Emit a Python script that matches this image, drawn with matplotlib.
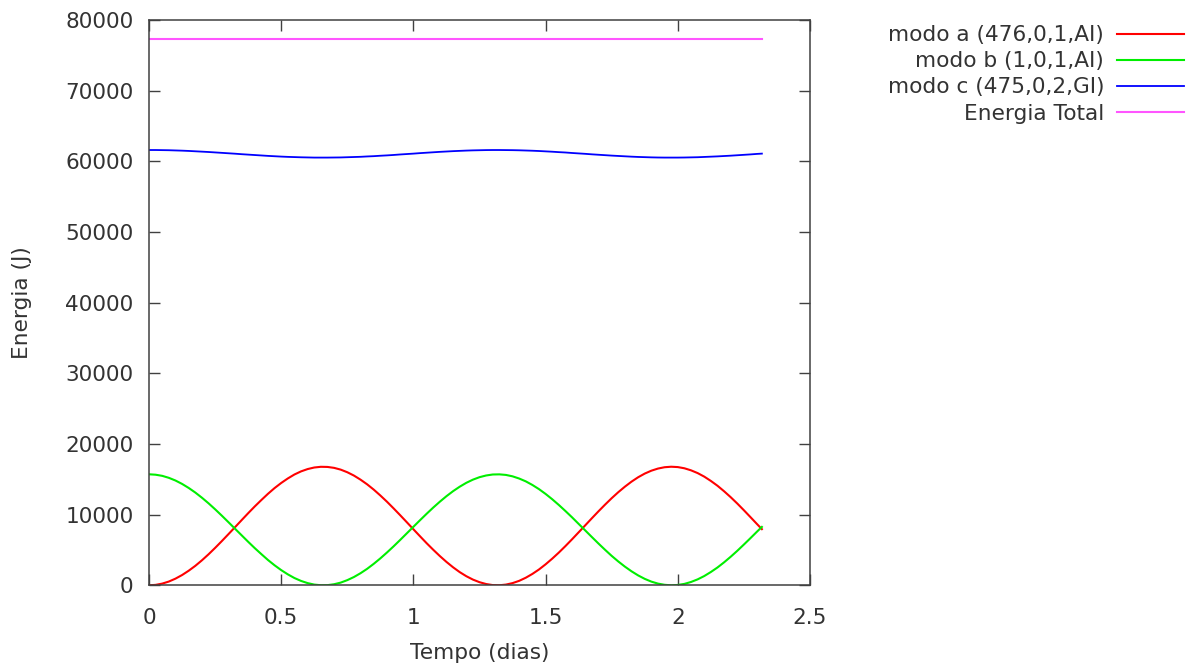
import numpy as np
import matplotlib
matplotlib.use("Agg")
import matplotlib.pyplot as plt

# tempo (dias) e energias (J)
tempo = [0.000, 0.025, 0.050, 0.075, 0.100, 0.125, 0.150, 0.175, 0.200, 0.225,
         0.250, 0.275, 0.300, 0.325, 0.350, 0.375, 0.400, 0.425, 0.450, 0.475,
         0.500, 0.525, 0.550, 0.575, 0.600, 0.625, 0.650, 0.675, 0.700, 0.725,
         0.750, 0.775, 0.800, 0.825, 0.850, 0.875, 0.900, 0.925, 0.950, 0.975,
         1.000, 1.025, 1.050, 1.075, 1.100, 1.125, 1.150, 1.175, 1.200, 1.225,
         1.250, 1.275, 1.300, 1.325, 1.350, 1.375, 1.400, 1.425, 1.450, 1.475,
         1.500, 1.525, 1.550, 1.575, 1.600, 1.625, 1.650, 1.675, 1.700, 1.725,
         1.750, 1.775, 1.800, 1.825, 1.850, 1.875, 1.900, 1.925, 1.950, 1.975,
         2.000, 2.025, 2.050, 2.075, 2.100, 2.125, 2.150, 2.175, 2.200, 2.225,
         2.250, 2.275, 2.300, 2.318]

modo_a = [0, 60, 240, 530, 940, 1450, 2060, 2750, 3530, 4380,
          5290, 6240, 7220, 8210, 9210, 10200, 11160, 12070, 12950, 13760,
          14480, 15120, 15680, 16120, 16450, 16670, 16770, 16750, 16620, 16370,
          16000, 15530, 14950, 14290, 13540, 12710, 11830, 10890, 9920, 8930,
          7930, 6940, 5960, 5030, 4140, 3310, 2550, 1870, 1290, 810,
          440, 180, 30, 5, 100, 310, 630, 1070, 1610, 2240,
          2970, 3770, 4630, 5550, 6510, 7500, 8490, 9490, 10470, 11420,
          12330, 13180, 13960, 14670, 15290, 15810, 16220, 16520, 16710, 16780,
          16730, 16560, 16270, 15880, 15380, 14770, 14090, 13310, 12470, 11570,
          10620, 9640, 8650, 7950]

modo_b = [15710, 15650, 15490, 15210, 14830, 14350, 13780, 13130, 12400, 11610,
          10760, 9870, 8950, 8020, 7090, 6160, 5260, 4410, 3580, 2830,
          2150, 1550, 1030, 620, 310, 100, 10, 20, 150, 380,
          730, 1170, 1710, 2330, 3040, 3810, 4640, 5510, 6420, 7350,
          8280, 9210, 10120, 11000, 11830, 12610, 13320, 13950, 14500, 14950,
          15300, 15540, 15680, 15700, 15620, 15420, 15110, 14710, 14200, 13610,
          12930, 12180, 11370, 10510, 9620, 8690, 7760, 6830, 5910, 5020,
          4160, 3370, 2640, 1980, 1400, 910, 520, 240, 70, 0,
          50, 200, 470, 840, 1310, 1880, 2520, 3250, 4040, 4880,
          5770, 6680, 7610, 8260]

modo_c = [61600, 61600, 61585, 61570, 61540, 61510, 61470, 61420, 61370, 61320,
          61260, 61200, 61140, 61080, 61010, 60950, 60890, 60830, 60770, 60720,
          60670, 60630, 60600, 60570, 60550, 60530, 60530, 60530, 60540, 60550,
          60580, 60610, 60640, 60690, 60730, 60790, 60840, 60900, 60970, 61030,
          61090, 61160, 61220, 61280, 61340, 61390, 61440, 61480, 61520, 61550,
          61570, 61590, 61600, 61600, 61590, 61580, 61560, 61530, 61500, 61460,
          61410, 61360, 61300, 61250, 61180, 61120, 61060, 60990, 60930, 60870,
          60810, 60760, 60710, 60660, 60620, 60590, 60560, 60540, 60530, 60530,
          60530, 60540, 60560, 60580, 60620, 60660, 60700, 60750, 60800, 60860,
          60920, 60980, 61050, 61090]

tempo_total = [0.0, 2.318]
energia_total = [77250, 77250]

rotulos = ["modo a (476,0,1,AI)", "modo b (1,0,1,AI)",
           "modo c (475,0,2,GI)", "Energia Total"]

plt.rcParams['font.family'] = ['DejaVu Sans']
fs = 15.6
cinza = '#404040'
texto = '#333333'

fig = plt.figure(figsize=(11.89, 6.67), dpi=100)
ax = fig.add_axes([149/1189, 1 - 585.3/667, (810 - 149)/1189, (585.3 - 20)/667])

ax.plot(tempo, modo_a, color='#ff0000', lw=1.5, label=rotulos[0])
ax.plot(tempo, modo_b, color='#00ee00', lw=1.5, label=rotulos[1])
ax.plot(tempo, modo_c, color='#0000ff', lw=1.3, label=rotulos[2])
ax.plot(tempo_total, energia_total, color='#ff55ff', lw=1.5, label=rotulos[3])

ax.set_xlim(0, 2.5)
ax.set_ylim(0, 80000)
ax.set_xticks([0, 0.5, 1, 1.5, 2, 2.5])
ax.set_xticklabels(['0', '0.5', '1', '1.5', '2', '2.5'])
ax.set_yticks(np.arange(0, 80001, 10000))

for s in ax.spines.values():
    s.set_color(cinza)
    s.set_linewidth(1.1)
ax.tick_params(direction='in', length=8, width=1.0, color=cinza,
               top=True, right=True, labelsize=fs, labelcolor=texto)
ax.tick_params(axis='x', pad=16)
ax.tick_params(axis='y', pad=11)

ax.set_xlabel('Tempo (dias)', fontsize=fs, color=texto, labelpad=11)
ax.set_ylabel('Energia (J)', fontsize=fs, color=texto, labelpad=24)

fig.legend(loc='upper right', bbox_to_anchor=(0.996, 0.962), frameon=False,
           markerfirst=False, fontsize=fs, handlelength=3.1,
           handletextpad=0.6, labelspacing=0.28, borderaxespad=0,
           borderpad=0, labelcolor=texto)

fig.savefig('out.png', dpi=100)
